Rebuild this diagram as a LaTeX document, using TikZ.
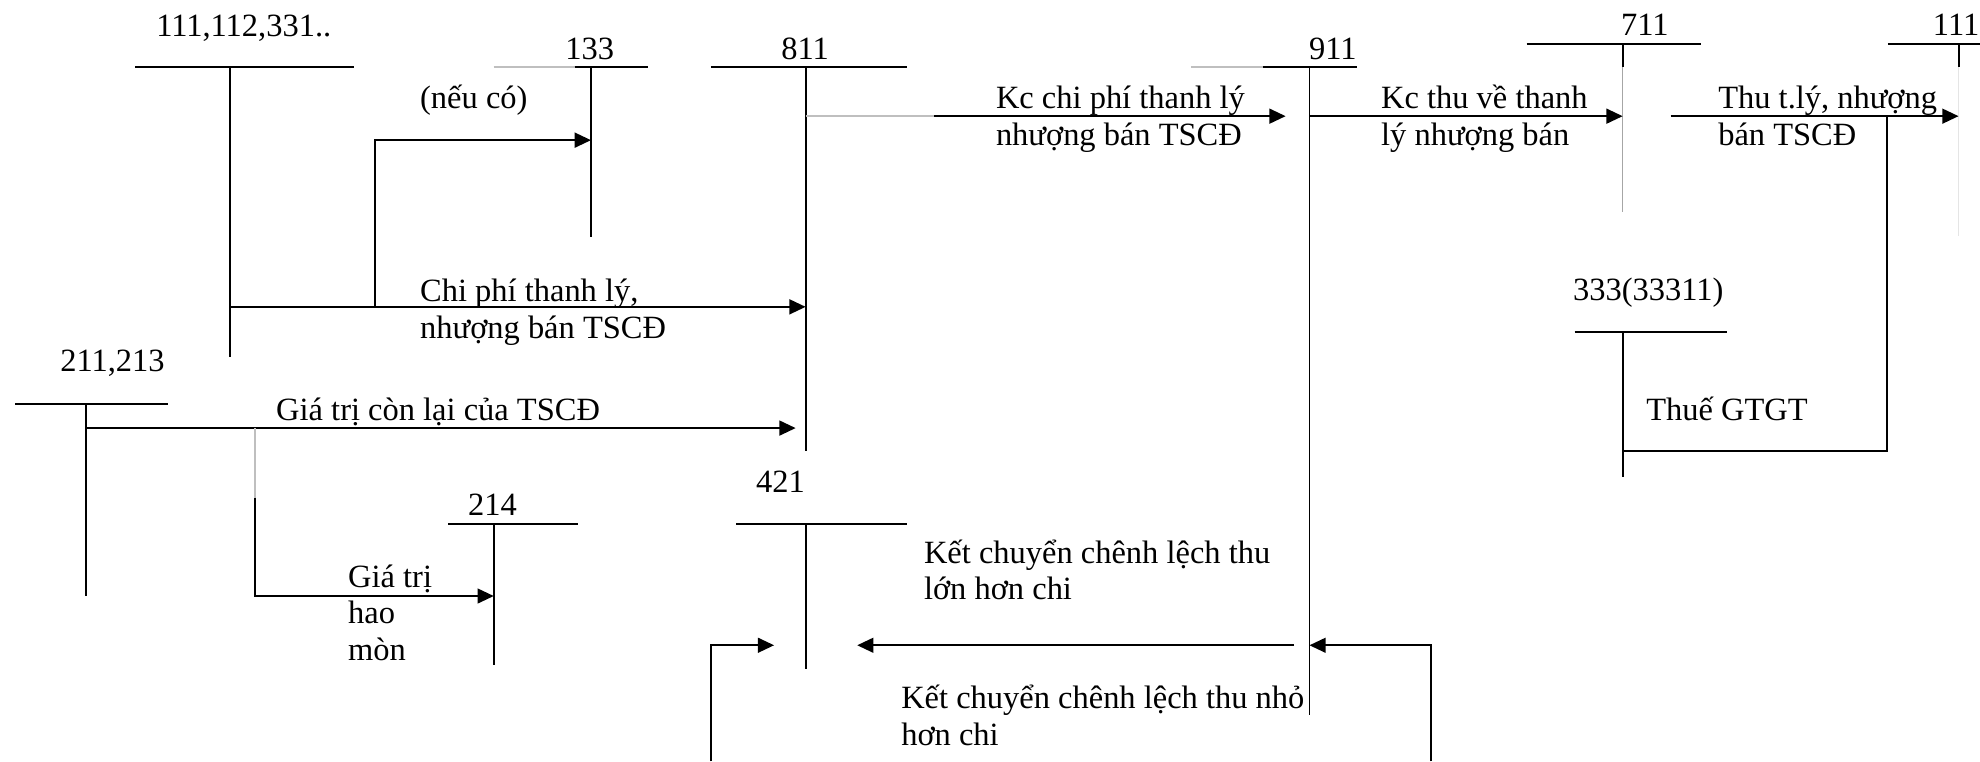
\documentclass[tikz,border=0pt]{standalone}
\usepackage{fontspec}
\setmainfont{Liberation Serif}
\usetikzlibrary{arrows.meta, positioning}
\tikzstyle{arrow} = [-{Triangle[length=6pt, width=5.5pt]}, line width=0.7pt]
\tikzstyle{acct} = [anchor=base west, inner sep=0pt]
\tikzstyle{note} = [anchor=base west, inner sep=0pt, align=left]
\tikzstyle{faint} = [line width=0.5pt, gray!50]

\begin{document}
\begin{tikzpicture}[x=0.0164cm, y=-0.0164cm, line width=0.7pt, font=\fontsize{12}{13.5}\selectfont]
    \useasboundingbox (0,0) rectangle (1568,603);

    % Account names
    \node[acct] (n111) at (123,29) {111,112,331..};
    \node[acct] (n133) at (447,47.5) {133};
    \node[acct] (n811) at (618,47.5) {811};
    \node[acct] (n911) at (1036,47.5) {911};
    \node[acct] (n711) at (1283,28.5) {711};
    \node[acct] (n111b) at (1530,28.5) {111};
    \node[acct] (n333) at (1245,237.6) {333(33311)};
    \node[acct] (n211) at (47,294.5) {211,213};
    \node[acct] (n214) at (370,408.6) {214};
    \node[acct] (n421) at (598,390) {421};

    % T accounts
    \draw (107,53) -- (280,53);
    \draw (182,53) coordinate (t111) -- (182,283);
    \draw[faint] (391,53) -- (455,53);
    \draw (455,53) -- (513,53);
    \draw (468,53) coordinate (t133) -- (468,188);
    \draw (563,53) -- (718,53);
    \draw (638,53) coordinate (t811) -- (638,357);
    \draw[faint] (943,53) -- (1000,53);
    \draw (1000,53) -- (1075,53);
    \draw (1037,53) coordinate (t911) -- (1037,566);
    \draw (1209,35) -- (1347,35);
    \draw (1285,35) coordinate (t711) -- (1285,53);
    \draw[line width=0.4pt, gray!70] (1285,53) -- (1285,168);
    \draw (1495,35) -- (1568,35);
    \draw (1551,35) coordinate (t111b) -- (1551,53);
    \draw[line width=0.4pt, gray!20] (1551,53) -- (1551,187);
    \draw (1247,263) -- (1368,263);
    \draw (1285,263) coordinate (t333) -- (1285,378);
    \draw (12,320) -- (133,320);
    \draw (68,320) coordinate (t211) -- (68,472);
    \draw (355,415) -- (458,415);
    \draw (391,415) coordinate (t214) -- (391,527);
    \draw (583,415) -- (718,415);
    \draw (638,415) coordinate (t421) -- (638,530);

    % Turning points
    \coordinate (k1) at (297,243);
    \coordinate (k2) at (297,111);
    \coordinate (kc) at (1494,92);
    \coordinate (g1) at (740,92);
    \coordinate (s1) at (1323,92);
    \coordinate (v1) at (1494,357);
    \coordinate (k3) at (202,339);
    \coordinate (k4) at (202,394);
    \coordinate (k5) at (202,472);
    \coordinate (m) at (900,511);
    \coordinate (b1) at (563,603);
    \coordinate (b2) at (1133,603);

    % Entries
    \draw[arrow] (t111 |- k1) -- (t811 |- k1);
    \draw[arrow] (k1) -- (k2) -- (t133 |- k2);
    \draw[faint] (t811 |- kc) -- (g1);
    \draw[arrow, shorten >=0.31cm] (g1) -- (t911 |- kc);
    \draw[arrow] (t911 |- kc) -- (t711 |- kc);
    \draw[arrow] (s1) -- (t111b |- kc);
    \draw (kc) -- (v1) -- (t333 |- v1);
    \draw[arrow, shorten >=0.13cm] (t211 |- k3) -- (t811 |- k3);
    \draw[faint] (k3) -- (k4);
    \draw[arrow] (k4) -- (k5) -- (t214 |- k5);
    \draw[arrow, shorten <=0.2cm, shorten >=0.67cm] (t911 |- m) -- (t421 |- m);
    \draw[arrow, shorten >=0.41cm] (b1) |- (t421 |- m);
    \draw[arrow] (b2) |- (t911 |- m);

    % Labels
    \node[note] (l1) at (332,86) {(nếu có)};
    \node[note] (l2) at (332,268) {Chi phí thanh lý,\\nhượng bán TSCĐ};
    \node[note] (l3) at (788,115) {Kc chi phí thanh lý\\nhượng bán TSCĐ};
    \node[note] (l4) at (1093,115) {Kc thu về thanh\\lý nhượng bán};
    \node[note] (l5) at (1360,115) {Thu t.lý, nhượng\\bán TSCĐ};
    \node[note] (l6) at (1303,333) {Thuế GTGT};
    \node[note] (l7) at (218,333) {Giá trị còn lại của TSCĐ};
    \node[note] (l8) at (275,523) {Giá trị\\hao\\mòn};
    \node[note] (l9) at (731,475) {Kết chuyển chênh lệch thu\\lớn hơn chi};
    \node[note] (l10) at (713,590) {Kết chuyển chênh lệch thu nhỏ\\hơn chi};
\end{tikzpicture}
\end{document}
